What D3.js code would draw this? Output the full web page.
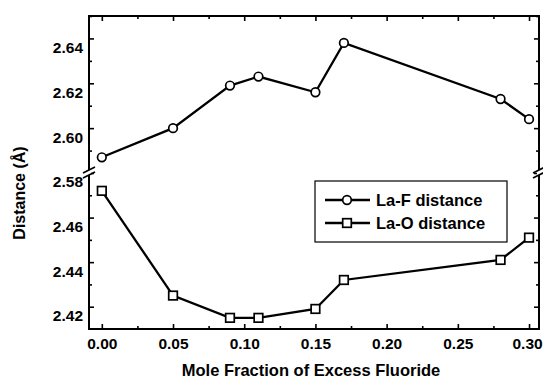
<!DOCTYPE html>
<html>
<head>
<meta charset="utf-8">
<style>
  body { margin: 0; background: #fff; }
  svg { display: block; font-family: 'Liberation Sans', Arial, sans-serif; font-weight: bold; }
</style>
</head>
<body>
<svg width="543" height="380"></svg>
<script src="https://d3js.org/d3.v7.min.js"></script>
<script>
// data
const fraction = [0.00, 0.05, 0.09, 0.11, 0.15, 0.17, 0.28, 0.30];
const laF = [2.587, 2.600, 2.619, 2.623, 2.616, 2.638, 2.613, 2.604];
const laO = [2.472, 2.425, 2.415, 2.415, 2.419, 2.432, 2.441, 2.451];
const seriesNames = ["La-F distance", "La-O distance"];

const xMajor = [0.00, 0.05, 0.10, 0.15, 0.20, 0.25, 0.30];
const xMinor = [0.025, 0.075, 0.125, 0.175, 0.225, 0.275];
const yUpperMajor = [2.58, 2.60, 2.62, 2.64];
const yUpperMinor = [2.59, 2.61, 2.63, 2.65];
const yLowerMajor = [2.42, 2.44, 2.46];
const yLowerMinor = [2.43, 2.45, 2.47];

const svg = d3.select("svg");
const mLeft = 89, mRight = 539, mTop = 16, mBottom = 329;

let x = d3.scaleLinear().domain([-0.009, 0.307]).range([mLeft, mRight]);
// broken y axis: two stacked scales
let yUp = d3.scaleLinear().domain([2.58, 2.65]).range([173, mTop]);
let yLo = d3.scaleLinear().domain([2.41, 2.48]).range([mBottom, 173]);

const fmt = d3.format(".2f");

// x axis, bottom (ticks point inward)
svg.append("g").attr("transform", `translate(0,${mBottom})`)
  .call(d3.axisBottom(x).tickValues(xMajor).tickSize(-5).tickPadding(9).tickFormat(fmt))
  .call(g => g.select(".domain").remove())
  .call(g => g.selectAll("text").style("font-size", "15.5px").attr("fill", "#000"))
  .call(g => g.selectAll("text").filter(d => d === 0.30).attr("x", -2));
svg.append("g").attr("transform", `translate(0,${mBottom})`)
  .call(d3.axisBottom(x).tickValues(xMinor).tickSize(-3).tickFormat(""))
  .call(g => g.select(".domain").remove());
// top mirror
svg.append("g").attr("transform", `translate(0,${mTop})`)
  .call(d3.axisTop(x).tickValues(xMajor).tickSize(-5).tickFormat(""))
  .call(g => g.select(".domain").remove());
svg.append("g").attr("transform", `translate(0,${mTop})`)
  .call(d3.axisTop(x).tickValues(xMinor).tickSize(-3).tickFormat(""))
  .call(g => g.select(".domain").remove());

// y axes, left with labels, right mirrored
function yAxes(scale, major, minor) {
  svg.append("g").attr("transform", `translate(${mLeft},0)`)
    .call(d3.axisLeft(scale).tickValues(major).tickSize(-5).tickPadding(6).tickFormat(fmt))
    .call(g => g.select(".domain").remove())
    .call(g => g.selectAll("text").style("font-size", "15.5px").attr("fill", "#000").attr("y", 9));
  svg.append("g").attr("transform", `translate(${mLeft},0)`)
    .call(d3.axisLeft(scale).tickValues(minor).tickSize(-3).tickFormat(""))
    .call(g => g.select(".domain").remove());
  svg.append("g").attr("transform", `translate(${mRight},0)`)
    .call(d3.axisRight(scale).tickValues(major).tickSize(-5).tickFormat(""))
    .call(g => g.select(".domain").remove());
  svg.append("g").attr("transform", `translate(${mRight},0)`)
    .call(d3.axisRight(scale).tickValues(minor).tickSize(-3).tickFormat(""))
    .call(g => g.select(".domain").remove());
}
yAxes(yUp, yUpperMajor, yUpperMinor);
yAxes(yLo, yLowerMajor, yLowerMinor);
svg.selectAll(".tick line").attr("stroke", "#000").attr("stroke-width", 1.6);

// frame
svg.append("rect")
  .attr("x", mLeft).attr("y", mTop)
  .attr("width", mRight - mLeft).attr("height", mBottom - mTop)
  .attr("fill", "none").attr("stroke", "#000").attr("stroke-width", 2);

// axis break marks
const yBreak = yUp(2.58);
[mLeft, mRight].forEach(bx => {
  svg.append("rect").attr("x", bx - 2).attr("y", yBreak - 3).attr("width", 4).attr("height", 5).attr("fill", "#fff");
  [-3, 2].forEach(off => {
    svg.append("line")
      .attr("x1", bx - 6).attr("y1", yBreak + off + 3)
      .attr("x2", bx + 6).attr("y2", yBreak + off - 3)
      .attr("stroke", "#000").attr("stroke-width", 1.6);
  });
});

// series
let lineF = d3.line().x((d, i) => x(fraction[i])).y(d => yUp(d));
let lineO = d3.line().x((d, i) => x(fraction[i])).y(d => yLo(d));

svg.append("path").datum(laF).attr("d", lineF)
  .attr("fill", "none").attr("stroke", "#000").attr("stroke-width", 2.3);
svg.append("path").datum(laO).attr("d", lineO)
  .attr("fill", "none").attr("stroke", "#000").attr("stroke-width", 2.3);

svg.append("g").selectAll("circle")
  .data(laF)
  .join("circle")
  .attr("cx", (d, i) => x(fraction[i]))
  .attr("cy", d => yUp(d))
  .attr("r", 4.3)
  .attr("fill", "#fff").attr("stroke", "#000").attr("stroke-width", 1.7);

svg.append("g").selectAll("rect")
  .data(laO)
  .join("rect")
  .attr("x", (d, i) => x(fraction[i]) - 4.3)
  .attr("y", d => yLo(d) - 4.3)
  .attr("width", 8.6).attr("height", 8.6)
  .attr("fill", "#fff").attr("stroke", "#000").attr("stroke-width", 1.7);

// axis titles
svg.append("text")
  .attr("x", (mLeft + mRight) / 2 - 3).attr("y", 376)
  .attr("text-anchor", "middle")
  .style("font-size", "16.5px")
  .text("Mole Fraction of Excess Fluoride");

svg.append("text")
  .attr("transform", "translate(25,193) rotate(-90)")
  .attr("text-anchor", "middle")
  .style("font-size", "16px")
  .text("Distance (Å)");

// legend
let legend = svg.append("g");
legend.append("rect")
  .attr("x", 315).attr("y", 181).attr("width", 192).attr("height", 61)
  .attr("fill", "#fff").attr("stroke", "#000").attr("stroke-width", 1.2);

seriesNames.forEach((name, i) => {
  let ly = 200 + i * 23;
  legend.append("line")
    .attr("x1", 325).attr("x2", 370).attr("y1", ly).attr("y2", ly)
    .attr("stroke", "#000").attr("stroke-width", 2.3);
  if (i === 0) {
    legend.append("circle").attr("cx", 347).attr("cy", ly).attr("r", 4.3)
      .attr("fill", "#fff").attr("stroke", "#000").attr("stroke-width", 1.7);
  } else {
    legend.append("rect").attr("x", 342.7).attr("y", ly - 4.3).attr("width", 8.6).attr("height", 8.6)
      .attr("fill", "#fff").attr("stroke", "#000").attr("stroke-width", 1.7);
  }
  legend.append("text")
    .attr("x", 376).attr("y", ly).attr("dy", "0.35em")
    .style("font-size", "16.5px")
    .text(name);
});
</script>
</body>
</html>
